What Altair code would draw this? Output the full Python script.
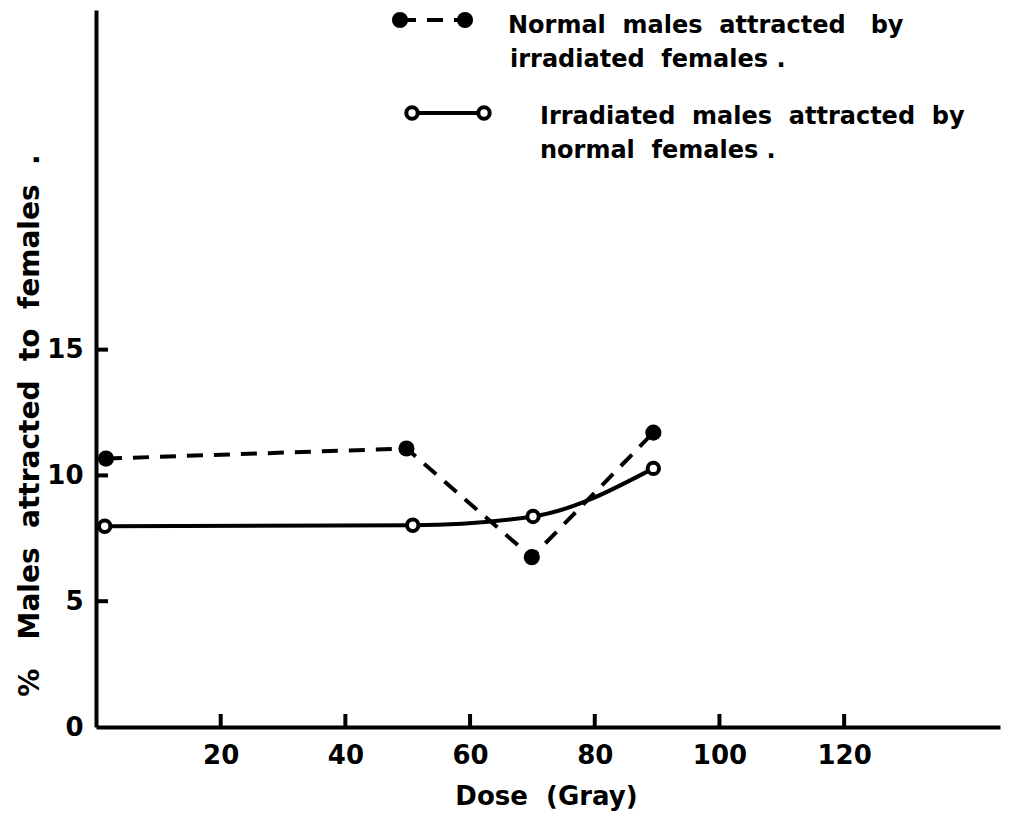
import altair as alt
import pandas as pd

# Data
dose_normal = [1.6, 49.8, 69.9, 89.4]
pct_normal = [10.67, 11.07, 6.75, 11.7]
dose_irr = [1.4, 50.8, 70.1, 89.4]
pct_irr = [7.98, 8.02, 8.37, 10.28]

x_ticks = [20, 40, 60, 80, 100, 120]
y_ticks = [5, 10, 15]
y_labels = [0, 5, 10, 15]

FONT = "DejaVu Sans"
W, H = 904, 717
S2 = "\u00a0 "   # widened word gap
S3 = "\u00a0\u00a0 "

df_n = pd.DataFrame({"dose": dose_normal, "pct": pct_normal})
df_i = pd.DataFrame({"dose": dose_irr, "pct": pct_irr})

xs = alt.Scale(domain=[0, 145], nice=False, zero=False)
ys = alt.Scale(domain=[0, 28.5], nice=False, zero=False)

xaxis = alt.Axis(values=x_ticks, ticks=False, grid=False, domainColor="black", domainWidth=4,
                 labelFont=FONT, labelFontWeight="bold", labelFontSize=26, labelColor="black",
                 labelPadding=15, title="Dose" + S2 + "(Gray)", titleFont=FONT,
                 titleFontWeight="bold", titleFontSize=26, titleColor="black",
                 titleX=450, titleY=56, titleBaseline="top")
yaxis = alt.Axis(values=y_labels, ticks=False, grid=False, domainColor="black", domainWidth=4,
                 labelFont=FONT, labelFontWeight="bold", labelFontSize=26, labelColor="black",
                 labelPadding=13,
                 title="%" + S3 + "Males" + S2 + "attracted" + S2 + "to" + S2 + "females" + S2 + ".",
                 titleFont=FONT, titleFontWeight="bold", titleFontSize=28, titleColor="black",
                 titleX=-66, titleY=415, titleAngle=-90, titleBaseline="middle", titleAlign="center")

base_n = alt.Chart(df_n).encode(x=alt.X("dose:Q", scale=xs, axis=xaxis),
                                y=alt.Y("pct:Q", scale=ys, axis=yaxis))
line_n = base_n.mark_line(color="black", strokeWidth=4, strokeDash=[16, 11])
pts_n = base_n.mark_point(filled=True, color="black", size=260, opacity=1, shape="circle")

base_i = alt.Chart(df_i).encode(x=alt.X("dose:Q", scale=xs), y=alt.Y("pct:Q", scale=ys))
line_i = base_i.mark_line(color="black", strokeWidth=4, interpolate="monotone")
pts_i = base_i.mark_point(filled=True, fill="white", stroke="black", strokeWidth=4, size=130,
                          opacity=1, shape="circle")

# inward ticks
yt = alt.Chart(pd.DataFrame({"v": y_ticks})).mark_rule(color="black", strokeWidth=4).encode(
    y=alt.Y("v:Q", scale=ys), x=alt.value(0), x2=alt.value(12))
xt = alt.Chart(pd.DataFrame({"v": x_ticks})).mark_rule(color="black", strokeWidth=4).encode(
    x=alt.X("v:Q", scale=xs), y=alt.value(H), y2=alt.value(H - 13))

# legend (pixel positions relative to plot area)
leg_line1 = alt.Chart(pd.DataFrame({"a": [0]})).mark_rule(
    color="black", strokeWidth=4, strokeDash=[16, 11]).encode(
    x=alt.value(304), x2=alt.value(369), y=alt.value(10))
leg_pts1 = alt.Chart(pd.DataFrame({"px": [304, 369]})).mark_point(
    filled=True, color="black", size=260, opacity=1).encode(
    x=alt.X("px:Q", scale=None), y=alt.value(10))
leg_line2 = alt.Chart(pd.DataFrame({"a": [0]})).mark_rule(
    color="black", strokeWidth=4).encode(x=alt.value(316), x2=alt.value(388), y=alt.value(103))
leg_pts2 = alt.Chart(pd.DataFrame({"px": [316, 388]})).mark_point(
    filled=True, fill="white", stroke="black", strokeWidth=4, size=130, opacity=1).encode(
    x=alt.X("px:Q", scale=None), y=alt.value(103))

leg_text = alt.Chart(pd.DataFrame({
    "px": [412, 414, 444, 444],
    "py": [16, 50, 107, 141],
    "t": ["Normal" + S2 + "males" + S2 + "attracted" + S3 + "by",
          "irradiated" + S2 + "females .",
          "Irradiated" + S2 + "males" + S2 + "attracted" + S2 + "by",
          "normal" + S2 + "females ."],
})).mark_text(align="left", baseline="middle", font=FONT, fontWeight="bold", fontSize=24,
              color="black").encode(x=alt.X("px:Q", scale=None), y=alt.Y("py:Q", scale=None),
                                    text="t:N")

chart = alt.layer(line_n, line_i, yt, xt, pts_n, pts_i,
                  leg_line1, leg_pts1, leg_line2, leg_pts2, leg_text).properties(
    width=W, height=H,
    autosize=alt.AutoSizeParams(type="none"),
    padding={"left": 96, "top": 10, "right": 20, "bottom": 100},
    background="white",
).configure_view(stroke=None)

chart.save("out.html", embed_options={"renderer": "svg", "actions": False})
